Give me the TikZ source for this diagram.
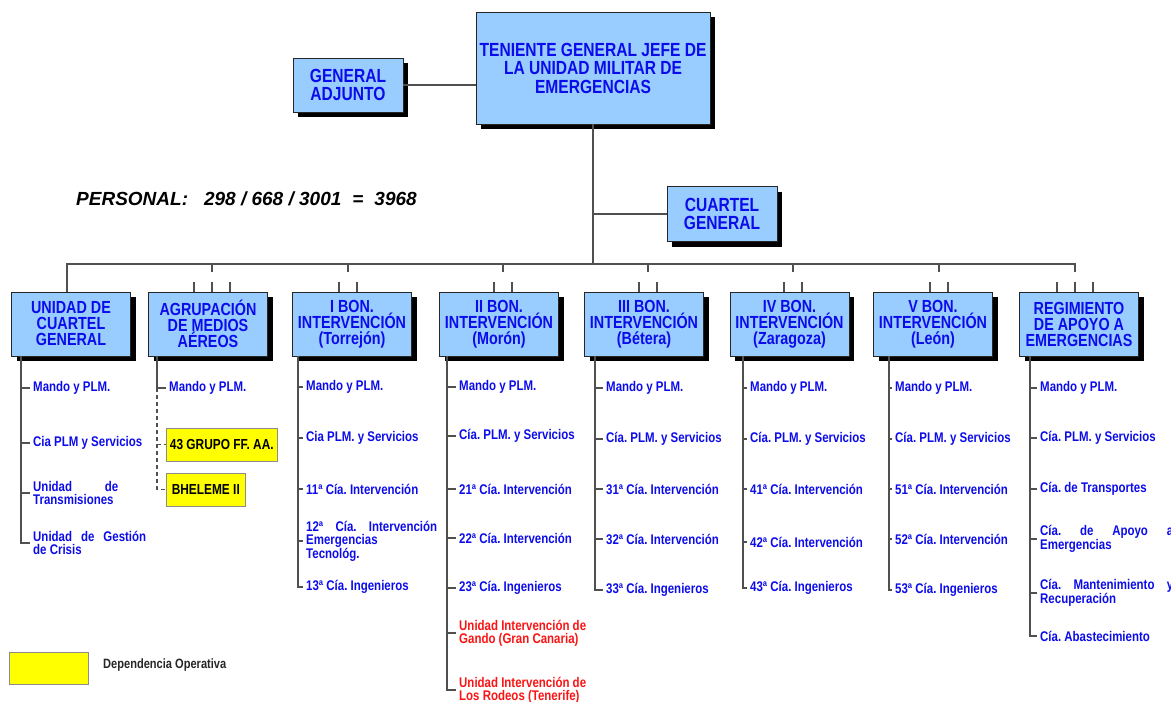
\documentclass[tikz,border=0pt]{standalone}
\usepackage{fontspec}
\setmainfont{Liberation Sans}
\newfontfamily\narrowfont{Liberation Sans}[FakeStretch=0.82]
\usetikzlibrary{shadows}

\definecolor{unitblue}{RGB}{153,204,255}
\definecolor{labelblue}{RGB}{12,12,235}
\definecolor{linegray}{RGB}{80,80,80}
\definecolor{opyellow}{RGB}{255,255,0}
\definecolor{islandred}{RGB}{250,20,20}
\newcommand{\stretchline}[2]{\makebox[#1][s]{#2}}
\frenchspacing

\begin{document}
\begin{tikzpicture}[x=1pt,y=-1pt,
  link/.style={draw=linegray,line width=1.4pt},
  unit/.style={draw=black!85, fill=unitblue, line width=0.9pt, text=labelblue,
    align=center, inner sep=0pt, minimum width=119, minimum height=64,
    font=\narrowfont\bfseries\fontsize{17.5}{16}\selectfont,
    drop shadow={shadow xshift=5pt, shadow yshift=-5pt, opacity=1, fill=black}},
  chief/.style={unit, font=\narrowfont\bfseries\fontsize{19}{18.5}\selectfont},
  opunit/.style={draw=black!45, fill=opyellow, line width=0.6pt, anchor=west,
    minimum height=33, inner sep=0pt,
    font=\narrowfont\bfseries\fontsize{14.5}{14}\selectfont},
  item/.style={anchor=west, inner xsep=3pt, inner ysep=0pt, align=left,
    text=labelblue, font=\narrowfont\bfseries\fontsize{14}{13}\selectfont\frenchspacing},
  island/.style={item, text=islandred}]
  \useasboundingbox (0,0) rectangle (1171,702);

  % top of the chart
  \node[chief, minimum width=234, minimum height=112] (jefe) at (593,68)
    {TENIENTE GENERAL JEFE DE\\LA UNIDAD MILITAR DE\\EMERGENCIAS};
  \node[chief, minimum width=110, minimum height=54] (adjunto) at (348,85)
    {GENERAL\\ADJUNTO};
  \node[chief, minimum width=110, minimum height=55] (cuartel) at (722,214)
    {CUARTEL\\GENERAL};
  \draw[link] (adjunto.east) -- (adjunto.east -| jefe.west);
  \draw[link] (cuartel.west) -- (cuartel.west -| jefe.south);

  \node[anchor=west, inner sep=0pt, font=\bfseries\itshape\fontsize{19}{19}\selectfont]
    (personal) at (76,199)
    {PERSONAL:\hspace{16pt}298 / 668 / 3001\hspace{11pt}=\hspace{11pt}3968};

  % units
  \node[unit] (ucg) at (71,324) {UNIDAD DE\\CUARTEL\\GENERAL};
  \node[unit] (agr) at (208,324) {AGRUPACIÓN\\DE MEDIOS\\AÉREOS};
  \node[unit] (b1) at (352,324) {I BON.\\INTERVENCIÓN\\(Torrejón)};
  \node[unit] (b2) at (499,324) {II BON.\\INTERVENCIÓN\\(Morón)};
  \node[unit] (b3) at (644,324) {III BON.\\INTERVENCIÓN\\(Bétera)};
  \node[unit] (b4) at (789.5,324) {IV BON.\\INTERVENCIÓN\\(Zaragoza)};
  \node[unit] (b5) at (933,324) {V BON.\\INTERVENCIÓN\\(León)};
  \node[unit] (rae) at (1079,324) {REGIMIENTO\\DE APOYO A\\EMERGENCIAS};

  % bus
  \coordinate (busL) at (67,264);
  \coordinate (busR) at (1075,264);
  \draw[link] (jefe.south) -- (jefe.south |- busL);
  \draw[link] (busL |- ucg.north) -- (busL) -- (busR) -- ++(0,8);
  \draw[link] (212,264) -- ++(0,8);
  \draw[link] (348,264) -- ++(0,8);
  \draw[link] (503,264) -- ++(0,8);
  \draw[link] (648,264) -- ++(0,8);
  \draw[link] (793,264) -- ++(0,8);
  \draw[link] (939,264) -- ++(0,8);
  \draw[link] (194,282) -- (194,292) (212,282) -- (212,292) (230,282) -- (230,292);
  \draw[link] (339,282) -- (339,292) (357,282) -- (357,292);
  \draw[link] (494,282) -- (494,292) (512,282) -- (512,292);
  \draw[link] (639,282) -- (639,292) (657,282) -- (657,292);
  \draw[link] (784,282) -- (784,292) (802,282) -- (802,292);
  \draw[link] (930,282) -- (930,292) (948,282) -- (948,292);
  \draw[link] (1057,282) -- (1057,292) (1075,282) -- (1075,292) (1093,282) -- (1093,292);

  % Unidad de Cuartel General
  \coordinate (sucg) at (21,356);
  \node[item] (ucg1) at (30,388) {Mando y PLM.};
  \node[item] (ucg2) at (30,443) {Cia PLM y Servicios};
  \node[item] (ucg3) at (30,493) {\stretchline{85pt}{Unidad de}\\Transmisiones};
  \node[item] (ucg4) at (30,543) {\stretchline{113pt}{Unidad de Gestión}\\de Crisis};
  \draw[link] (sucg) |- (ucg4.west);
  \draw[link] (sucg |- ucg1.west) -- (ucg1.west);
  \draw[link] (sucg |- ucg2.west) -- (ucg2.west);
  \draw[link] (sucg |- ucg3.west) -- (ucg3.west);

  % Agrupacion de Medios Aereos
  \coordinate (sagr) at (157,356);
  \node[item] (agr1) at (166,388) {Mando y PLM.};
  \node[opunit, minimum width=111] (grupo) at (166,444.5) {43 GRUPO FF. AA.};
  \node[opunit, minimum width=79] (bheleme) at (166,489.5) {BHELEME II};
  \draw[link] (sagr) -- (sagr |- agr1.west) -- (agr1.west);
  \draw[link, dash pattern=on 4pt off 3pt] (sagr |- agr1.west) |- (bheleme.west);
  \draw[link, dash pattern=on 4pt off 3pt] (sagr |- grupo.west) -- (grupo.west);

  % I Bon.
  \coordinate (sb1) at (298,356);
  \node[item] (b1a) at (303,387) {Mando y PLM.};
  \node[item] (b1b) at (303,438) {Cia PLM. y Servicios};
  \node[item] (b1c) at (303,489) {11ª Cía. Intervención};
  \node[item] (b1d) at (303,541)
    {\stretchline{131pt}{12ª Cía. Intervención}\\Emergencias\\Tecnológ.};
  \node[item] (b1e) at (303,587) {13ª Cía. Ingenieros};
  \draw[link] (sb1) |- (b1e.west);
  \draw[link] (sb1 |- b1a.west) -- (b1a.west);
  \draw[link] (sb1 |- b1b.west) -- (b1b.west);
  \draw[link] (sb1 |- b1c.west) -- (b1c.west);
  \draw[link] (sb1 |- b1d.west) -- (b1d.west);

  % II Bon.
  \coordinate (sb2) at (447,356);
  \node[item] (b2a) at (456,387) {Mando y PLM.};
  \node[item] (b2b) at (456,436) {Cía. PLM. y Servicios};
  \node[item] (b2c) at (456,489) {21ª Cía. Intervención};
  \node[item] (b2d) at (456,538) {22ª Cía. Intervención};
  \node[item] (b2e) at (456,588) {23ª Cía. Ingenieros};
  \node[island] (b2f) at (456,633) {Unidad Intervención de\\Gando (Gran Canaria)};
  \node[island] (b2g) at (456,690) {Unidad Intervención de\\Los Rodeos (Tenerife)};
  \draw[link, line width=2pt] (sb2) |- (b2g.west);
  \draw[link] (sb2 |- b2a.west) -- (b2a.west);
  \draw[link] (sb2 |- b2b.west) -- (b2b.west);
  \draw[link] (sb2 |- b2c.west) -- (b2c.west);
  \draw[link] (sb2 |- b2d.west) -- (b2d.west);
  \draw[link] (sb2 |- b2e.west) -- (b2e.west);
  \draw[link] (sb2 |- b2f.west) -- (b2f.west);

  % III Bon.
  \coordinate (sb3) at (595,356);
  \node[item] (b3a) at (603,388) {Mando y PLM.};
  \node[item] (b3b) at (603,439) {Cía. PLM. y Servicios};
  \node[item] (b3c) at (603,489) {31ª Cía. Intervención};
  \node[item] (b3d) at (603,539) {32ª Cía. Intervención};
  \node[item] (b3e) at (603,590) {33ª Cía. Ingenieros};
  \draw[link] (sb3) |- (b3e.west);
  \draw[link] (sb3 |- b3a.west) -- (b3a.west);
  \draw[link] (sb3 |- b3b.west) -- (b3b.west);
  \draw[link] (sb3 |- b3c.west) -- (b3c.west);
  \draw[link] (sb3 |- b3d.west) -- (b3d.west);

  % IV Bon.
  \coordinate (sb4) at (743,356);
  \node[item] (b4a) at (747,388) {Mando y PLM.};
  \node[item] (b4b) at (747,439) {Cía. PLM. y Servicios};
  \node[item] (b4c) at (747,489) {41ª Cía. Intervención};
  \node[item] (b4d) at (747,542) {42ª Cía. Intervención};
  \node[item] (b4e) at (747,588) {43ª Cía. Ingenieros};
  \draw[link] (sb4) |- (b4e.west);
  \draw[link] (sb4 |- b4a.west) -- (b4a.west);
  \draw[link] (sb4 |- b4b.west) -- (b4b.west);
  \draw[link] (sb4 |- b4c.west) -- (b4c.west);
  \draw[link] (sb4 |- b4d.west) -- (b4d.west);

  % V Bon.
  \coordinate (sb5) at (889,356);
  \node[item] (b5a) at (892,388) {Mando y PLM.};
  \node[item] (b5b) at (892,439) {Cía. PLM. y Servicios};
  \node[item] (b5c) at (892,489) {51ª Cía. Intervención};
  \node[item] (b5d) at (892,539) {52ª Cía. Intervención};
  \node[item] (b5e) at (892,590) {53ª Cía. Ingenieros};
  \draw[link] (sb5) |- (b5e.west);
  \draw[link] (sb5 |- b5a.west) -- (b5a.west);
  \draw[link] (sb5 |- b5b.west) -- (b5b.west);
  \draw[link] (sb5 |- b5c.west) -- (b5c.west);
  \draw[link] (sb5 |- b5d.west) -- (b5d.west);

  % Regimiento de Apoyo a Emergencias
  \coordinate (srae) at (1030,356);
  \node[item] (rae1) at (1037,388) {Mando y PLM.};
  \node[item] (rae2) at (1037,438) {Cía. PLM. y Servicios};
  \node[item] (rae3) at (1037,489) {Cía. de Transportes};
  \node[item] (rae4) at (1037,539) {\stretchline{133pt}{Cía. de Apoyo a}\\Emergencias};
  \node[item] (rae5) at (1037,593) {\stretchline{133pt}{Cía. Mantenimiento y}\\Recuperación};
  \node[item] (rae6) at (1037,636) {Cía. Abastecimiento};
  \draw[link] (srae) |- (rae6.west);
  \draw[link] (srae |- rae1.west) -- (rae1.west);
  \draw[link] (srae |- rae2.west) -- (rae2.west);
  \draw[link] (srae |- rae3.west) -- (rae3.west);
  \draw[link] (srae |- rae4.west) -- (rae4.west);
  \draw[link] (srae |- rae5.west) -- (rae5.west);

  % legend
  \node[draw=black!45, fill=opyellow, line width=0.6pt, minimum width=79,
    minimum height=32, inner sep=0pt] (legbox) at (48.5,668) {};
  \node[anchor=west, inner sep=0pt, text=black!85,
    font=\narrowfont\bfseries\fontsize{13.5}{13}\selectfont]
    (legtext) at (103,665) {Dependencia Operativa};
\end{tikzpicture}
\end{document}
